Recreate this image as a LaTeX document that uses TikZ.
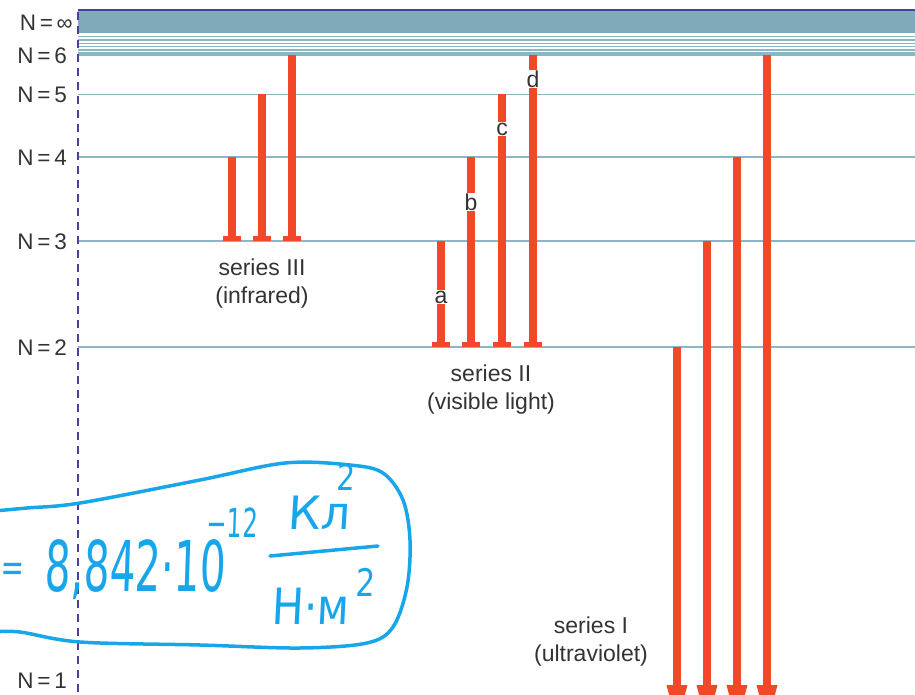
\documentclass[tikz,border=0pt]{standalone}
\usepackage{fontspec}
\setmainfont{Liberation Sans}
\newfontfamily\handfont[FakeSlant=0.06]{DejaVu Sans}
\definecolor{barred}{HTML}{F04828}
\definecolor{lvlblue}{HTML}{8CB6C6}
\definecolor{bandfill}{HTML}{80AABA}
\definecolor{axpurple}{HTML}{4B3F96}
\definecolor{handblue}{HTML}{18A6EA}
\definecolor{labgray}{HTML}{333333}
\begin{document}
\begin{tikzpicture}[x=1pt,y=-1pt,
  lvl/.style={draw=lvlblue, line width=1.6pt},
  lab/.style={font=\fontsize{22.5}{24}\selectfont, text=labgray, anchor=east, inner sep=0pt},
  ser/.style={font=\fontsize{23}{28}\selectfont, text=labgray, align=center, inner sep=0pt},
  ltr/.style={font=\fontsize{23}{23}\selectfont, text=labgray, fill=white, inner sep=0.5pt},
  handline/.style={draw=handblue, line width=3.5pt, line cap=round, line join=round},
  handtxt/.style={text=handblue, inner sep=0pt},
]
\useasboundingbox (0,0) rectangle (915,695);
\clip (0,0) rectangle (915,695);

% continuum band
\fill[bandfill] (78,11) rectangle (915,33);
\draw[axpurple, line width=2pt] (78,10) -- (915,10);
\foreach \yy in {36.5,40,43.3,46.6,50,53} {
  \draw[lvlblue, line width=1.3pt] (78,\yy) -- (915,\yy);
}
% levels
\foreach \yy in {55,94.5,157,241,347} {
  \draw[lvl] (78,\yy) -- (915,\yy);
}
% dashed axis
\draw[axpurple, line width=2.4pt, dash pattern=on 8pt off 6pt] (78,12) -- (78,695);

% level labels
\node[lab] (ninf) at (73,23) {N\,=\,∞};
\node[lab] (n6) at (67,56) {N\,=\,6};
\node[lab] (n5) at (67,95) {N\,=\,5};
\node[lab] (n4) at (67,158) {N\,=\,4};
\node[lab] (n3) at (67,242) {N\,=\,3};
\node[lab] (n2) at (67,348) {N\,=\,2};
\node[lab] (n1) at (67,681) {N\,=\,1};

% series III (to N=3)
\foreach \xx/\top in {232/157, 262/94.5, 292/55} {
  \fill[barred] (\xx-3.7,\top) rectangle (\xx+3.7,241);
  \fill[barred] (\xx-9,236) rectangle (\xx+9,241);
}
% series II (to N=2)
\foreach \xx/\top in {441/241, 471/157, 502/94.5, 533/55} {
  \fill[barred] (\xx-3.7,\top) rectangle (\xx+3.7,347);
  \fill[barred] (\xx-9,342) rectangle (\xx+9,347);
}
% series I (to N=1)
\foreach \xx/\top in {677/347, 707/241, 737/157, 767/55} {
  \fill[barred] (\xx-3.7,\top) rectangle (\xx+3.7,690);
  \fill[barred] (\xx-10.5,685) -- (\xx+10.5,685) -- (\xx,725) -- cycle;
}

% letters
\node[ltr] (la) at (441,297) {a};
\node[ltr] (lb) at (471,202) {b};
\node[ltr] (lc) at (502,129) {c};
\node[ltr] (ld) at (533,79) {d};

% series labels
\node[ser] (s3) at (262,284) {series III\\(infrared)};
\node[ser] (s2) at (491,390) {series II\\(visible light)};
\node[ser] (s1) at (591,642) {series I\\(ultraviolet)};

% handwritten annotation
\draw[handline] plot[smooth, tension=0.55] coordinates {
  (-6,511) (27,508) (80,503) (200,480) (285,463) (350,465) (383,473)
  (403,500) (410,540) (407,587) (393,627) (367,643) (300,648) (200,645)
  (80,642) (20,632) (-6,632)};
\node[handtxt, font=\handfont\fontsize{40}{40}\selectfont, xscale=0.7] (heq) at (12,572) {=};
\node[handtxt, font=\handfont\fontsize{70}{70}\selectfont, xscale=0.58] (hnum) at (135,570) {8,842·10};
\node[handtxt, font=\handfont\fontsize{40}{40}\selectfont, xscale=0.6] (hexp) at (232,523) {−12};
\node[handtxt, font=\handfont\fontsize{46}{46}\selectfont] (hkl) at (319,513) {Кл};
\node[handtxt, font=\handfont\fontsize{36}{36}\selectfont, xscale=0.8] (hk2) at (346,477) {2};
\coordinate (fracl) at (270,556);
\coordinate (fracr) at (378,546);
\draw[handline] (fracl) -- (fracr);
\node[handtxt, font=\handfont\fontsize{50}{50}\selectfont, xscale=0.85] (hnm) at (310,606) {Н·м};
\node[handtxt, font=\handfont\fontsize{38}{38}\selectfont, xscale=0.8] (hm2) at (365,582) {2};
\end{tikzpicture}
\end{document}
